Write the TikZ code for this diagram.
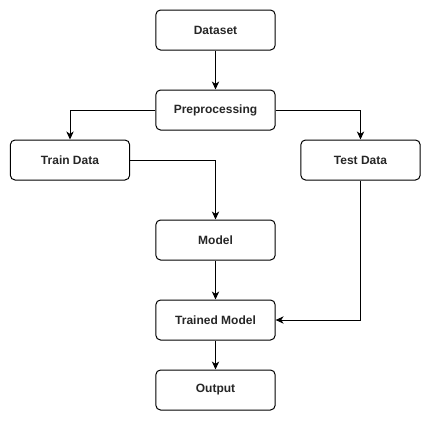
\documentclass[tikz,border=0pt]{standalone}
\usepackage{fontspec}
\setmainfont{Liberation Sans}
\usetikzlibrary{arrows.meta}
\begin{document}
\begin{tikzpicture}[x=0.75pt,y=-0.75pt,
  box/.style={draw=black, line width=0.75pt, rounded corners=3.5pt, minimum width=119.25*0.75pt, minimum height=40*0.75pt, inner sep=0pt, font=\bfseries\fontsize{9pt}{11pt}\selectfont, text=black!85},
  conn/.style={draw=black, line width=0.75pt, -{Stealth[length=6pt,width=5.5pt,inset=1.8pt]}}]
\useasboundingbox (0,0) rectangle (431,421);
\node[box] (ds) at (215.5,30) {Dataset};
\node[box] (pp) at (215.5,110) {Preprocessing};
\node[box] (tr) at (70,160) {Train Data};
\node[box] (te) at (360.5,160) {Test Data};
\node[box] (md) at (215.5,240) {Model};
\node[box] (tm) at (215.5,320) {Trained Model};
\node[box] (out) at (215.5,390) {Output};
\draw[conn] (ds) -- (pp);
\draw[conn] (pp.west) -| (tr.north);
\draw[conn] (pp.east) -| (te.north);
\draw[conn] (tr.east) -| (md.north);
\draw[conn] (md) -- (tm);
\draw[conn] (te.south) |- (tm.east);
\draw[conn] (tm) -- (out);
\end{tikzpicture}
\end{document}
